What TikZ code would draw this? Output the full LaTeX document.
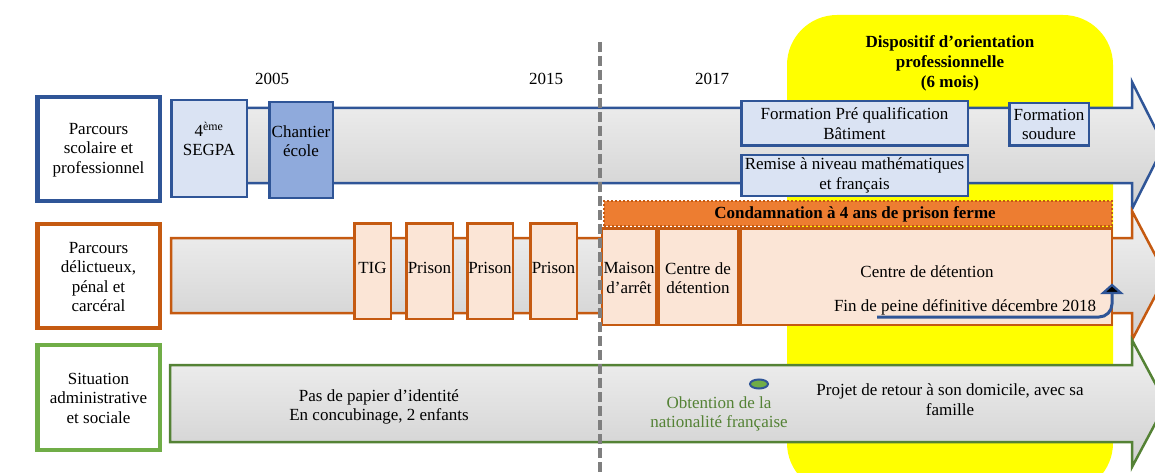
\documentclass[tikz,border=0pt]{standalone}
\usepackage{fontspec}
\setmainfont{Liberation Serif}
\usetikzlibrary{arrows.meta,shapes.geometric}
\definecolor{bl}{HTML}{2F5597}
\definecolor{blfill}{HTML}{DAE3F3}
\definecolor{blmid}{HTML}{8FAADC}
\definecolor{orl}{HTML}{C55A11}
\definecolor{orfill}{HTML}{FBE5D6}
\definecolor{orbar}{HTML}{ED7D31}
\definecolor{grl}{HTML}{70AD47}
\definecolor{grd}{HTML}{548235}
\definecolor{grtext}{HTML}{548235}
\definecolor{yel}{HTML}{FFFF00}
\definecolor{shtop}{HTML}{F2F2F2}
\definecolor{shbot}{HTML}{D0D0D0}
\definecolor{dashgray}{HTML}{7F7F7F}
\begin{document}
\begin{tikzpicture}[x=1pt,y=-1pt,
  every node/.style={font=\fontsize{17}{19.5}\selectfont, inner sep=0pt, outer sep=0pt, align=center},
  lab/.style={draw=#1, line width=4.5pt, fill=white, minimum width=122.5pt, minimum height=104pt},
  shaft/.style={draw=#1, line width=2.5pt, top color=shtop, bottom color=shbot},
  bbox/.style={draw=bl, line width=2.5pt, fill=blfill},
  obox/.style={draw=orl, line width=2.5pt, fill=orfill},
  txt/.style={text=black},
  titre/.style={font=\fontsize{17}{20}\selectfont\bfseries}
]
\useasboundingbox (0,0) rectangle (1155,473);
\clip (0,0) rectangle (1155,473);

% yellow background
\fill[yel, rounded corners=50pt] (787,15) rectangle (1113,493);

% big arrows
\path[shaft=bl] (172,108) -- (1132,108) -- (1132,82) -- (1164,145.5) -- (1132,209) -- (1132,183) -- (172,183) -- cycle;
\path[shaft=orl] (171,238) -- (1132,238) -- (1132,211) -- (1166,275.5) -- (1132,340) -- (1132,313) -- (171,313) -- cycle;
\path[shaft=grd] (170,365) -- (1132,365) -- (1132,340) -- (1166,403.5) -- (1132,467) -- (1132,442) -- (170,442) -- cycle;

% label boxes
\node[lab=bl] (labA) at (98.5,149) {};
\node[txt] (labAt) at (98.5,150) {Parcours\\scolaire et\\professionnel};
\node[lab=orl] (labB) at (98.5,276) {};
\node[txt] (labBt) at (98.5,277) {Parcours\\délictueux,\\pénal et\\carcéral};
\node[lab=grl, minimum height=105pt] (labC) at (98.5,397.5) {};
\node[txt] (labCt) at (98.5,398) {Situation\\administrative\\et sociale};

% years
\node[txt] (y2005) at (272,79) {2005};
\node[txt] (y2015) at (546,79) {2015};
\node[txt] (y2017) at (712,79) {2017};

% title
\node[titre] (titre) at (950,63) {Dispositif d’orientation\\professionnelle\\(6 mois)};

% blue boxes
\node[bbox, minimum width=75.5pt, minimum height=96.5pt] (segpa) at (209,148.5) {};
\node[txt] (segpat) at (209,139) {4\textsuperscript{ème}\\SEGPA};
\node[bbox, fill=blmid, minimum width=63.5pt, minimum height=95.5pt] (chant) at (301,150) {};
\node[txt] (chantt) at (301,141) {Chantier\\école};
\node[bbox, minimum width=226.5pt, minimum height=44.5pt] (fpq) at (854.5,123.5) {Formation Pré qualification\\Bâtiment};
\node[bbox, minimum width=226.5pt, minimum height=40.5pt] (rem) at (854.5,175.5) {Remise à niveau mathématiques\\et français};
\node[bbox, minimum width=79.5pt, minimum height=42.5pt] (soud) at (1049,124.5) {Formation\\soudure};

% orange boxes
\node[obox, minimum width=36.5pt, minimum height=95.5pt] (tig) at (372.5,271) {};
\node[txt] (tigt) at (372.5,268) {TIG};
\node[obox, minimum width=46.5pt, minimum height=95.5pt] (pr1) at (429.5,271) {};
\node[txt] (pr1t) at (429.5,268) {Prison};
\node[obox, minimum width=45.5pt, minimum height=95.5pt] (pr2) at (490,271) {};
\node[txt] (pr2t) at (490,268) {Prison};
\node[obox, minimum width=46.5pt, minimum height=95.5pt] (pr3) at (553.5,271) {};
\node[txt] (pr3t) at (553.5,268) {Prison};

\node[draw=orl, fill=orbar, line width=2pt, dotted, minimum width=508pt, minimum height=25pt] (cond) at (858,213.5) {};
\node[txt, font=\fontsize{17}{19.5}\selectfont\bfseries] (condt) at (855,214) {Condamnation à 4 ans de prison ferme};

\node[obox, minimum width=54pt, minimum height=96.5pt] (maison) at (629,276.5) {};
\node[txt] (maisont) at (629,278) {Maison\\d’arrêt};
\node[obox, minimum width=79.5pt, minimum height=96.5pt] (cd1) at (698,276.5) {};
\node[txt] (cd1t) at (698,278) {Centre de\\détention};
\node[obox, minimum width=371.5pt, minimum height=96.5pt] (cd2) at (926,276.5) {};
\node[txt] (cd2t) at (927,272) {Centre de détention};
\node[txt] (fin) at (965,307) {Fin de peine définitive décembre 2018};

% green row texts
\node[txt] (pas) at (379,407) {Pas de papier d’identité\\En concubinage, 2 enfants};
\node[ellipse, draw=bl, fill=grl, line width=2pt, minimum width=18pt, minimum height=9pt] (dot) at (759,384) {};
\node[text=grtext] (obt) at (719,414) {Obtention de la\\nationalité française};
\node[txt] (proj) at (950,399.5) {Projet de retour à son domicile, avec sa\\famille};

% dashed separator
\coordinate (dtop) at (600,42);
\coordinate (dbot) at (600,476);
\draw[dashgray, line width=4pt, dash pattern=on 10pt off 4pt] (dtop) -- (dbot);

% end-of-sentence arrow
\coordinate (fs) at (877,317);
\coordinate (fb) at (1112,293);
\coordinate (fe) at (1112,285);
\coordinate (fl) at (1103,293);
\coordinate (fr) at (1121,293);
\draw[bl, line width=3pt, rounded corners=13pt] (fs) -| (fb);
\filldraw[fill=black, draw=bl, line width=2.2pt, line join=miter] (fl) -- (fr) -- (fe) -- cycle;
\end{tikzpicture}
\end{document}
